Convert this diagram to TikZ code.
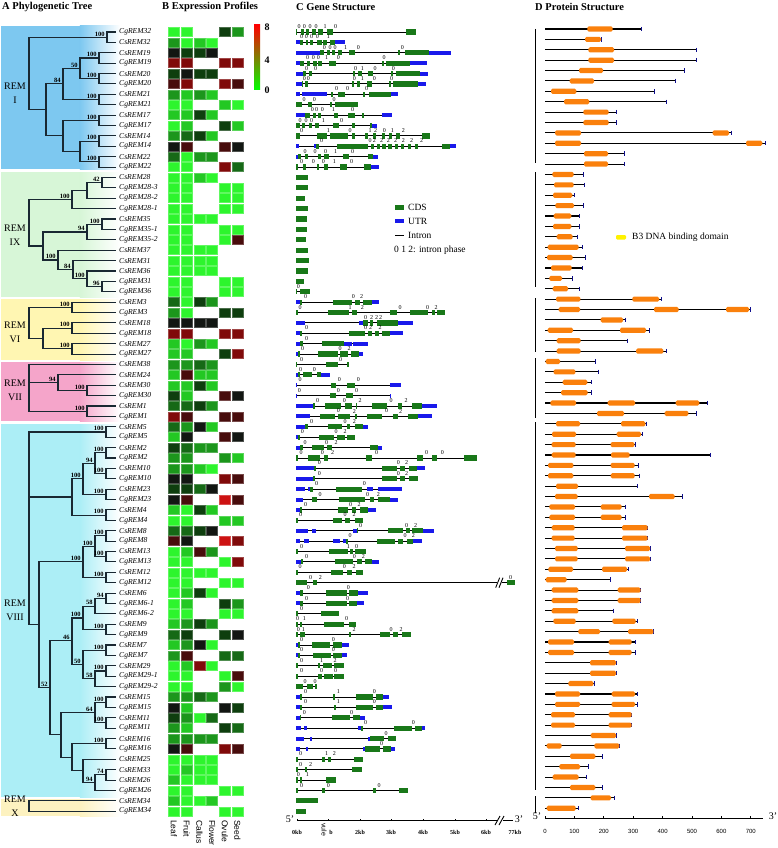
\documentclass[tikz,border=0pt]{standalone}
\usepackage{fontspec}
\setmainfont{Liberation Serif}
\newfontfamily\arialf{Liberation Sans}
\usetikzlibrary{calc}
\definecolor{g0}{RGB}{45,245,45}
\definecolor{g1}{RGB}{35,200,35}
\definecolor{g2}{RGB}{28,150,28}
\definecolor{g3}{RGB}{22,105,22}
\definecolor{g4}{RGB}{14,62,14}
\definecolor{k}{RGB}{18,22,18}
\definecolor{r1}{RGB}{72,12,12}
\definecolor{r2}{RGB}{128,10,10}
\definecolor{r3}{RGB}{205,18,18}
\definecolor{cdsc}{RGB}{25,120,25}
\definecolor{utrc}{RGB}{25,25,235}
\definecolor{domc}{RGB}{250,128,12}
\definecolor{treec}{RGB}{25,40,50}
\definecolor{bI}{RGB}{125,200,240}
\definecolor{bIX}{RGB}{215,246,215}
\definecolor{bVI}{RGB}{255,246,178}
\definecolor{bVII}{RGB}{245,165,202}
\definecolor{bVIII}{RGB}{172,238,246}
\definecolor{bX}{RGB}{253,242,192}
\tikzset{
  declare function={ry(\r)=32+10.39*\r;},
  tree/.style={line width=1.1pt,draw=treec,line cap=rect},
  boot/.style={anchor=south east,inner sep=0.6pt,xshift=-1.5pt,yshift=0.3pt,font=\fontsize{6.5}{7}\selectfont\bfseries},
  gname/.style={anchor=west,inner sep=0pt,font=\fontsize{7.6}{8}\selectfont\itshape},
  grp/.style={align=center,font=\fontsize{10}{14}\selectfont},
  title/.style={anchor=west,inner sep=0pt,font=\fontsize{10.5}{12}\selectfont\bfseries},
  intron/.style={line width=0.9pt,draw=black},
  cds/.style={fill=cdsc},
  utr/.style={fill=utrc},
  phase/.style={inner sep=0pt,font=\fontsize{6}{6}\selectfont},
  pline/.style={line width=1.1pt,draw=black},
  ptick/.style={line width=0.7pt,draw=utrc!60!black},
  dom/.style={fill=domc,rounded corners=1.5pt},
  leg/.style={anchor=west,inner sep=0pt,font=\fontsize{9.5}{11}\selectfont},
  axl/.style={inner sep=0pt,font=\fontsize{6}{7}\selectfont\bfseries},
  col/.style={rotate=-90,anchor=west,inner sep=0pt,font=\arialf\fontsize{8.5}{9}\selectfont}
}
\newcommand\tnode[6]{\draw[tree] (#1,{ry(#3)}) -- (#2,{ry(#3)}); \draw[tree] (#2,{ry(#4)}) -- (#2,{ry(#5)}); \node[boot] at (#2,{ry(#3)}) {#6};}
\newcommand\tleaf[2]{\draw[tree] (#1,{ry(#2)}) -- (115,{ry(#2)});}
\newcommand\hcell[3]{\fill[#3,draw=#3!75!white,line width=0.5pt] ({174+12.7*(#2-1)-5.5},{ry(#1)-4.5}) rectangle ++(11,9);}
\newcommand\hcs[5]{\hcell{#1}{1}{#2}\hcell{#1}{2}{#3}\hcell{#1}{3}{#4}\hcell{#1}{4}{#5}}
\newcommand\hcg[5]{\hcell{#1}{1}{#2}\hcell{#1}{2}{#3}\hcell{#1}{5}{#4}\hcell{#1}{6}{#5}}
\newcommand\gline[2]{\draw[intron] ({285+33/3},{ry(#1)}) -- ({285+#2/3},{ry(#1)});}
\newcommand\gcds[2]{\foreach \xa/\xb in {#2}{\fill[cds] ({285+\xa/3},{ry(#1)-2.6}) rectangle ({285+\xb/3},{ry(#1)+2.6});}}
\newcommand\gutr[2]{\foreach \xa/\xb in {#2}{\fill[utr] ({285+\xa/3},{ry(#1)-2}) rectangle ({285+\xb/3},{ry(#1)+2});}}
\newcommand\gph[2]{\foreach \xa/\xt in {#2}{\node[phase] at ({285+\xa/3},{ry(#1)-5.4}) {\xt};}}
\newcommand\prot[3]{\draw[pline] (545,{ry(#1)-3}) -- ({530+#2/3},{ry(#1)-3}); \draw[ptick] ({530+#2/3},{ry(#1)-5.2}) -- ({530+#2/3},{ry(#1)-0.8});
  \foreach \xa/\xb in {#3}{\fill[dom] ({530+\xa/3},{ry(#1)-5.6}) rectangle ({530+\xb/3},{ry(#1)-0.4});}}
\begin{document}
\begin{tikzpicture}[x=1pt,y=-1pt]
\useasboundingbox (0,0) rectangle (778,848);
\fill[white] (0,0) rectangle (778,848);
% ---------- backgrounds
\foreach \ya/\yb/\cc in {26/169/bI,172/297/bIX,299/360/bVI,362/421/bVII,424/797/bVIII,799/816/bX}{
  \fill[\cc] (1,\ya) rectangle (80,\yb);
  \shade[left color=\cc,right color=white] (79.8,\ya) rectangle (120,\yb);
}
% ---------- titles
\node[title] (tA) at (2,7) {A Phylogenetic Tree};
\node[title] (tB) at (162,7) {B Expression Profiles};
\node[title] (tC) at (296,7) {C Gene Structure};
\node[title] (tD) at (535,7) {D Protein Structure};
% ---------- group labels
\node[grp] (gI) at (15,93.5) {REM\\I};
\node[grp] (gIX) at (15,235.5) {REM\\IX};
\node[grp] (gVI) at (15,332.5) {REM\\VI};
\node[grp] (gVII) at (15,390) {REM\\VII};
\node[grp] (gVIII) at (15,610.5) {REM\\VIII};
\node[grp] (gX) at (15,806) {REM\\X};
% ---------- gene names
\foreach \nm [count=\i from 0] in {CgREM32,CsREM32,CsREM19,CgREM19,CsREM20,CgREM20,CsREM21,CgREM21,CsREM17,CgREM17,CsREM14,CgREM14,CsREM22,CgREM22,
 CsREM28,CgREM28-3,CgREM28-2,CgREM28-1,CsREM35,CgREM35-1,CgREM35-2,CsREM37,CsREM31,CsREM36,CgREM31,CgREM36,
 CsREM3,CgREM3,CsREM18,CgREM18,CsREM27,CgREM27,CsREM38,CsREM24,CsREM30,CgREM30,CsREM1,CgREM1,
 CsREM5,CgREM5,CsREM2,CgREM2,CsREM10,CgREM10,CsREM23,CgREM23,CsREM4,CgREM4,CsREM8,CgREM8,CsREM13,CgREM13,CsREM12,CgREM12,
 CsREM6,CgREM6-1,CgREM6-2,CsREM9,CgREM9,CsREM7,CgREM7,CsREM29,CgREM29-1,CgREM29-2,CsREM15,CgREM15,CsREM11,CgREM11,CsREM16,CgREM16,
 CsREM25,CsREM33,CsREM26,CgREM26,CsREM34,CgREM34}
 {\node[gname] (n\i) at (119,{ry(\i)}) {\nm};}
% ---------- tree REM I
\draw[tree] (29,{ry(0.5)}) -- (29,{ry(7.5)});
\tnode{29}{107}{0.5}{0}{1}{100}\tleaf{107}{0}\tleaf{107}{1}
\tnode{29}{46}{7.5}{5}{10}{}
\tnode{46}{63}{5}{3.5}{6.5}{84}
\tnode{63}{80}{3.5}{2.5}{4.5}{50}
\tnode{80}{99}{2.5}{2}{3}{100}\tleaf{99}{2}\tleaf{99}{3}
\tnode{80}{99}{4.5}{4}{5}{100}\tleaf{99}{4}\tleaf{99}{5}
\tnode{63}{99}{6.5}{6}{7}{100}\tleaf{99}{6}\tleaf{99}{7}
\tnode{46}{63}{10}{8.5}{11.5}{}
\tnode{63}{99}{8.5}{8}{9}{100}\tleaf{99}{8}\tleaf{99}{9}
\tnode{63}{80}{11.5}{10.5}{12.5}{}
\tnode{80}{99}{10.5}{10}{11}{100}\tleaf{99}{10}\tleaf{99}{11}
\tnode{80}{99}{12.5}{12}{13}{100}\tleaf{99}{12}\tleaf{99}{13}
% ---------- tree REM IX
\draw[tree] (29,{ry(16.125)}) -- (29,{ry(20.6)});
\tnode{29}{72}{16.125}{15.25}{17}{100}
\tnode{72}{87}{15.25}{14.5}{16}{}
\tnode{87}{102}{14.5}{14}{15}{42}\tleaf{102}{14}\tleaf{102}{15}
\tleaf{87}{16}\tleaf{72}{17}
\tnode{29}{43}{20.6}{19.25}{21.94}{}
\tnode{43}{87}{19.25}{18.5}{20}{94}
\tnode{87}{102}{18.5}{18}{19}{100}\tleaf{102}{18}\tleaf{102}{19}
\tleaf{87}{20}
\tnode{43}{58}{21.94}{21}{22.875}{100}\tleaf{58}{21}
\tnode{58}{73}{22.875}{22}{23.75}{84}\tleaf{73}{22}
\tnode{73}{87}{23.75}{23}{24.5}{100}\tleaf{87}{23}
\tnode{87}{102}{24.5}{24}{25}{96}\tleaf{102}{24}\tleaf{102}{25}
% ---------- tree REM VI
\draw[tree] (29,{ry(26.5)}) -- (29,{ry(29.5)});
\tnode{29}{72}{26.5}{26}{27}{100}\tleaf{72}{26}\tleaf{72}{27}
\tnode{29}{43}{29.5}{28.5}{30.5}{}
\tnode{43}{72}{28.5}{28}{29}{100}\tleaf{72}{28}\tleaf{72}{29}
\tnode{43}{72}{30.5}{30}{31}{100}\tleaf{72}{30}\tleaf{72}{31}
% ---------- tree REM VII
\draw[tree] (29,{ry(32)}) -- (29,{ry(36.5)});
\tleaf{29}{32}
\tnode{29}{58}{33.75}{33}{34.5}{94}\tleaf{58}{33}
\tnode{58}{87}{34.5}{34}{35}{100}\tleaf{87}{34}\tleaf{87}{35}
\tnode{29}{87}{36.5}{36}{37}{100}\tleaf{87}{36}\tleaf{87}{37}
% ---------- tree REM VIII
\draw[tree] (29,{ry(38.5)}) -- (29,{ry(57.05)});
\tnode{29}{106}{38.5}{38}{39}{100}\tleaf{106}{38}\tleaf{106}{39}
\tnode{29}{72}{44.75}{43}{46.5}{}
\tnode{72}{83}{43}{41.5}{44.5}{100}
\tnode{83}{95}{41.5}{40.5}{42.5}{94}
\tnode{95}{106}{40.5}{40}{41}{100}\tleaf{106}{40}\tleaf{106}{41}
\tnode{95}{106}{42.5}{42}{43}{100}\tleaf{106}{42}\tleaf{106}{43}
\tnode{83}{106}{44.5}{44}{45}{100}\tleaf{106}{44}\tleaf{106}{45}
\tnode{72}{106}{46.5}{46}{47}{100}\tleaf{106}{46}\tleaf{106}{47}
\tnode{29}{39}{57.05}{51}{63.1}{}
\tnode{39}{83}{51}{49.5}{52.5}{100}
\tnode{83}{95}{49.5}{48.5}{50.5}{100}
\tnode{95}{106}{48.5}{48}{49}{100}\tleaf{106}{48}\tleaf{106}{49}
\tnode{95}{106}{50.5}{50}{51}{100}\tleaf{106}{50}\tleaf{106}{51}
\tnode{83}{106}{52.5}{52}{53}{100}\tleaf{106}{52}\tleaf{106}{53}
\tnode{39}{50}{63.1}{58.6}{67.65}{52}
\tnode{50}{72}{58.6}{56.4}{60.9}{46}
\tnode{72}{83}{56.4}{55.25}{57.5}{100}
\tnode{83}{95}{55.25}{54.5}{56}{58}
\tnode{95}{106}{54.5}{54}{55}{94}\tleaf{106}{54}\tleaf{106}{55}
\tleaf{95}{56}
\tnode{83}{106}{57.5}{57}{58}{100}\tleaf{106}{57}\tleaf{106}{58}
\tnode{72}{83}{60.9}{59.5}{62.25}{50}
\tnode{83}{106}{59.5}{59}{60}{100}\tleaf{106}{59}\tleaf{106}{60}
\tnode{83}{95}{62.25}{61.5}{63}{58}
\tnode{95}{106}{61.5}{61}{62}{100}\tleaf{106}{61}\tleaf{106}{62}
\tleaf{95}{63}
\tnode{50}{61}{67.65}{65.5}{69.8}{}
\tnode{61}{95}{65.5}{64.5}{66.5}{64}
\tnode{95}{106}{64.5}{64}{65}{100}\tleaf{106}{64}\tleaf{106}{65}
\tnode{95}{106}{66.5}{66}{67}{100}\tleaf{106}{66}\tleaf{106}{67}
\tnode{61}{72}{69.8}{68.5}{71.1}{}
\tnode{72}{106}{68.5}{68}{69}{100}\tleaf{106}{68}\tleaf{106}{69}
\tnode{72}{83}{71.1}{70}{72.25}{}
\tleaf{83}{70}
\tnode{83}{95}{72.25}{71.5}{73}{94}
\tnode{95}{106}{71.5}{71}{72}{74}\tleaf{106}{71}\tleaf{106}{72}
\tleaf{95}{73}
% ---------- tree REM X
\draw[tree] (29,{ry(74)}) -- (29,{ry(75)});
\tleaf{29}{74}\tleaf{29}{75}
% ---------- heatmap
\hcg{0}{g0}{g0}{g4}{g2}
\hcs{1}{g2}{g0}{g1}{g0}
\hcs{2}{k}{g4}{g4}{k}
\hcg{3}{r2}{r2}{r2}{r2}
\hcs{4}{g4}{k}{g4}{g4}
\hcg{5}{r1}{r2}{r2}{r1}
\hcs{6}{g2}{g1}{g2}{g1}
\hcg{7}{g0}{g0}{g1}{g0}
\hcs{8}{g1}{g1}{g4}{g1}
\hcg{9}{g0}{g1}{g4}{g1}
\hcs{10}{g2}{g3}{g4}{g1}
\hcg{11}{k}{r1}{r1}{k}
\hcs{12}{g3}{g0}{g2}{g2}
\hcg{13}{g0}{g0}{r2}{g3}
\hcs{14}{g0}{g0}{g1}{g0}
\hcg{15}{g0}{g0}{g0}{g0}
\hcg{16}{g0}{g0}{g0}{g0}
\hcg{17}{g0}{g0}{g0}{g0}
\hcs{18}{g0}{g0}{g0}{g0}
\hcg{19}{g0}{g0}{g0}{g0}
\hcg{20}{g0}{g0}{g0}{r1}
\hcs{21}{g0}{g0}{g0}{g0}
\hcs{22}{g0}{g0}{g0}{g0}
\hcs{23}{g0}{g0}{g0}{g0}
\hcg{24}{g0}{g0}{g0}{g0}
\hcg{25}{g0}{g0}{g0}{g0}
\hcs{26}{g3}{g0}{g4}{g2}
\hcg{27}{g2}{g0}{g4}{g4}
\hcs{28}{k}{k}{k}{k}
\hcg{29}{r2}{r2}{r2}{r2}
\hcs{30}{g1}{g0}{g2}{g1}
\hcg{31}{g1}{g1}{g4}{r2}
\hcs{32}{g2}{g2}{g3}{g2}
\hcs{33}{g1}{r1}{g1}{g1}
\hcs{34}{g1}{g1}{g4}{g1}
\hcg{35}{g4}{g1}{r1}{k}
\hcs{36}{g3}{g3}{g4}{g2}
\hcg{37}{r2}{r1}{r1}{r1}
\hcs{38}{g3}{g2}{k}{g1}
\hcg{39}{g1}{k}{r1}{k}
\hcs{40}{g4}{g3}{g2}{g2}
\hcg{41}{g2}{g2}{g2}{g1}
\hcs{42}{g2}{g2}{g1}{g0}
\hcg{43}{k}{k}{r2}{r1}
\hcs{44}{g4}{g4}{g3}{k}
\hcg{45}{k}{r1}{r3}{r1}
\hcs{46}{g1}{g0}{g4}{g1}
\hcg{47}{g0}{g0}{g1}{g1}
\hcs{48}{g3}{g3}{g4}{k}
\hcg{49}{r1}{k}{r3}{r2}
\hcs{50}{g0}{g1}{r1}{g2}
\hcg{51}{g0}{g0}{g0}{r2}
\hcs{52}{g0}{g0}{g0}{g0}
\hcg{53}{g0}{g0}{g0}{g0}
\hcs{54}{g0}{g1}{g4}{g0}
\hcg{55}{g0}{g1}{g4}{g2}
\hcg{56}{g0}{g0}{g0}{g0}
\hcs{57}{g1}{g2}{g4}{g2}
\hcg{58}{g3}{g4}{g4}{k}
\hcs{59}{g1}{g2}{k}{g0}
\hcg{60}{g2}{r1}{g3}{g3}
\hcs{61}{g0}{g1}{r2}{g0}
\hcg{62}{g0}{g0}{g0}{r1}
\hcg{63}{g0}{g0}{g2}{g0}
\hcs{64}{g2}{g2}{g3}{g2}
\hcg{65}{k}{g1}{k}{g4}
\hcs{66}{g4}{g2}{g0}{g3}
\hcg{67}{g2}{g1}{g4}{g3}
\hcs{68}{g2}{g2}{g2}{g2}
\hcg{69}{k}{r1}{r2}{r1}
\hcs{70}{g0}{g0}{g0}{g0}
\hcs{71}{g0}{g1}{g0}{g0}
\hcs{72}{g1}{g0}{g0}{g0}
\hcg{73}{g0}{g0}{g0}{g0}
\hcs{74}{g1}{g0}{g0}{g1}
\hcg{75}{g0}{g0}{g0}{g0}
% column labels
\foreach \lab [count=\i from 0] in {Leaf,Fruit,Callus,Flower,Ovule,Seed}
  {\node[col] (c\i) at ({174+12.7*\i},820) {\lab};}
% colour bar
\shade[top color=red,middle color=black,bottom color=green] (254,25) rectangle (260,90);
\node[inner sep=0pt,font=\fontsize{10}{11}\selectfont\bfseries] (cb8) at (267,27) {8};
\node[inner sep=0pt,font=\fontsize{10}{11}\selectfont\bfseries] (cb4) at (267,60) {4};
\node[inner sep=0pt,font=\fontsize{10}{11}\selectfont\bfseries] (cb0) at (267,90) {0};
% ---------- gene structure
\gline{0}{365}\gcds{0}{33/37,48/56,62/72,80/92,100/115,125/145,363/393}\gph{0}{42/0,58/0,75/0,93/0,120/1,152/0}
\gline{1}{180}\gutr{1}{33/45,150/180}\gcds{1}{45/55,62/70,76/85,95/110,115/125,135/150}\gph{1}{50/0,64/0,80/0,97/0,130/1}
\gline{2}{497}\gutr{2}{33/105,432/497}\gcds{2}{105/118,125/135,140/150,160/172,192/210,340/345,360/432}\gph{2}{118/0,135/0,150/0,182/1,220/0,352/0}
\gline{3}{425}\gutr{3}{33/45,375/425}\gcds{3}{45/58,65/75,85/95,100/110,133/153,290/296,303/375}\gph{3}{68/0,85/0,100/0,125/1,160/0,297/0}
\gline{4}{430}\gutr{4}{33/55,405/430}\gcds{4}{55/62,72/82,205/210,220/230,248/265,318/325,332/405}\gph{4}{65/0,92/0,212/0,232/1,270/0,325/0}
\gline{5}{423}\gutr{5}{33/50,398/423}\gcds{5}{50/55,60/70,200/208,215/225,245/262,312/318,325/398}\gph{5}{58/0,70/0,208/0,232/1,268/0,320/0}
\gline{6}{338}\gutr{6}{33/45,50/125,318/338}\gcds{6}{138/145,160/180,235/240,252/318}\gph{6}{155/0,188/0,245/0}
\gline{7}{220}\gcds{7}{33/50,70/80,135/142,150/220}\gph{7}{57/0,88/0,147/0}
\gline{8}{322}\gutr{8}{33/60,290/322}\gcds{8}{60/75,85/92,100/108,148/160,190/210,232/236}\gph{8}{82/0,95/0,112/0,145/1,203/0}
\gline{9}{276}\gutr{9}{262/276}\gcds{9}{33/45,52/60,72/80,90/102,145/162,200/210,255/262}\gph{9}{45/0,63/0,80/0,115/1,170/0}
\gline{10}{435}\gcds{10}{33/45,95/125,135/188,200/210,240/250,265/272,290/300,312/320,333/345,410/435}\gph{10}{50/0,130/1,195/0,255/1,272/2,298/0,322/1,355/2}
\gline{11}{512}\gutr{11}{33/43,87/92,495/512}\gcds{11}{92/102,155/248,258/268,275/285,292/302,310/320,330/340,348/358,368/378,390/400,470/495}\gph{11}{110/0,255/0,268/2,290/2,310/2,332/2,355/2,380/2,410/2}
\gline{12}{278}\gutr{12}{33/40,265/278}\gcds{12}{40/48,60/68,100/108,118/132,175/192,248/265}\gph{12}{60/0,90/0,122/0,152/1,203/0}
\gline{13}{283}\gutr{13}{258/283}\gcds{13}{33/40,55/62,95/102,118/130,165/185,238/258}\gph{13}{50/0,85/0,115/0,148/1,200/0}
\gcds{14}{33/68}\gcds{15}{33/70}\gcds{16}{33/60}\gcds{17}{33/70}\gcds{18}{33/65}\gcds{19}{33/65}
\gcds{20}{33/63}\gcds{21}{33/68}\gcds{22}{33/72}\gcds{23}{33/68}\gcds{24}{33/58}
\gline{25}{75}\gcds{25}{33/36,45/75}\gph{25}{40/0}
\gline{26}{283}\gutr{26}{33/45,262/283}\gcds{26}{45/52,145/200,210/225,235/262}\gph{26}{62/0,205/0,230/2}
\gline{27}{480}\gcds{27}{33/38,128/192,200/215,315/335,375/430,440/450,455/480}\gph{27}{45/0,195/1,232/2,345/0,428/0,453/2}
\gline{28}{385}\gutr{28}{33/60,222/235,340/385}\gcds{28}{235/248,255/265,275/340}\gph{28}{242/0,260/2,275/2,287/2}
\gline{29}{355}\gutr{29}{33/45,315/355}\gcds{29}{45/50,193/240,250/260,270/282,290/315}\gph{29}{65/0,242/0,257/2,285/2}
\gline{30}{250}\gutr{30}{33/45,178/200,205/250}\gcds{30}{45/55,110/178}\gph{30}{65/0}
\gline{31}{235}\gutr{31}{33/40,222/235}\gcds{31}{40/45,100/160,165/190,198/222}\gph{31}{53/0,165/0,192/2}
\gline{32}{193}\gcds{32}{33/36,122/160,186/193}\gph{32}{50/0,167/0}
\gline{33}{135}\gutr{33}{33/38,108/135}\gcds{33}{38/45,55/80,95/108}\gph{33}{47/0,88/0}
\gline{34}{348}\gutr{34}{33/36,315/348}\gcds{34}{137/153,185/210}\gph{34}{45/0,163/0,220/0}
\gline{35}{318}\gutr{35}{33/36,315/318}\gcds{35}{135/152,183/205}\gph{35}{43/0,160/0,215/0}
\gline{36}{457}\gutr{36}{33/85,410/457}\gcds{36}{85/90,120/168,180/200,212/217,262/305,340/352,382/410}\gph{36}{98/0,178/0,225/2,318/0,363/2}
\gline{37}{440}\gutr{37}{33/75,400/440}\gcds{37}{105/150,160/195,210/215,245/292,325/340,370/400}\gph{37}{160/0,208/2,305/0,347/2}
\gline{38}{250}\gutr{38}{33/60,235/250}\gcds{38}{60/70,128/172,185/195,210/235}\gph{38}{80/0,180/0,208/2}
\gline{39}{210}\gutr{39}{33/40}\gcds{39}{40/45,103/148,155/180,185/210}\gph{39}{52/0,153/0,180/2}
\gline{40}{290}\gutr{40}{33/45,280/290}\gcds{40}{45/55,80/118,125/140,255/280}\gph{40}{60/0,125/0,153/2}
\gline{41}{575}\gcds{41}{33/40,68/105,118/130,242/262,396/415,440/455,537/575}\gph{41}{48/0,112/0,143/2,275/0,425/0,472/0}
\gline{42}{420}\gutr{42}{33/88,395/420}\gcds{42}{88/92,290/335,345/360,372/395}\gph{42}{103/0,340/0,365/2}
\gline{43}{400}\gutr{43}{33/85}\gcds{43}{85/90,290/335,345/360,372/398}\gph{43}{103/0,340/0,365/2}
\gline{44}{350}\gutr{44}{33/60,68/75,245/265,278/350}\gcds{44}{75/85,153/230}\gph{44}{95/0,238/0}
\gline{45}{340}\gutr{45}{33/55,315/340}\gcds{45}{80/95,162/240,255/268,280/315}\gph{45}{105/0,248/0,280/2}
\gline{46}{272}\gutr{46}{33/45,250/272}\gcds{46}{45/50,160/190,200/212,225/250}\gph{46}{62/0,197/0,222/2}
\gline{47}{235}\gcds{47}{33/38,145/172,180/195,210/235}\gph{47}{47/0,180/0,207/2}
\gline{48}{447}\gutr{48}{33/68,80/92,205/215,415/447}\gcds{48}{215/218,308/355,362/375,382/415}\gph{48}{227/0,365/0,392/2}
\gline{49}{412}\gutr{49}{33/45,58/72,145/165,173/183,385/412}\gcds{49}{183/188,275/330,340/355,365/385}\gph{49}{195/0,360/0,385/2}
\gline{50}{242}\gcds{50}{33/40,133/190,195/205,210/242}\gph{50}{50/0,190/1,215/0}
\gline{51}{283}\gutr{51}{33/48,262/283}\gcds{51}{48/55,150/205,215/230,240/262}\gph{51}{65/0,208/0,235/2}
\gline{52}{233}\gcds{52}{33/38,138/175,185/200,212/233}\gph{52}{45/0,178/0,207/2}
\gline{53}{690}\gcds{53}{33/65,85/95,665/690}\gph{53}{77/0,106/2,677/0}
\fill[white] ({285+636/3},{ry(53)-6}) rectangle ({285+652/3},{ry(53)+6});
\draw[line width=0.9pt] ({285+632/3},{ry(53)+5}) -- ({285+644/3},{ry(53)-5});
\draw[line width=0.9pt] ({285+642/3},{ry(53)+5}) -- ({285+654/3},{ry(53)-5});
\gline{54}{250}\gutr{54}{33/45,218/250}\gcds{54}{45/55,123/185,193/218}\gph{54}{70/0,190/0}
\gline{55}{237}\gutr{55}{33/45,215/237}\gcds{55}{45/55,123/185,193/215}\gph{55}{65/0,188/0}
\gline{56}{163}\gcds{56}{33/40,108/163}\gph{56}{50/0}
\gline{57}{212}\gcds{57}{33/38,45/52,118/178,192/212}\gph{57}{38/0,58/1,185/0}
\gline{58}{378}\gcds{58}{33/38,45/60,193/197,285/315,325/340,350/378}\gph{58}{40/0,55/1,207/2,318/0,348/2}
\gline{59}{193}\gutr{59}{33/38,170/193}\gcds{59}{38/45,82/135,143/170}\gph{59}{50/0,145/0}
\gline{60}{185}\gutr{60}{33/38,172/185}\gcds{60}{38/45,85/138,145/172}\gph{60}{50/0,145/0}
\gline{61}{178}\gcds{61}{33/38,98/105,115/140,148/178}\gph{61}{50/0,110/1,150/2}
\gline{62}{178}\gcds{62}{33/38,100/110,118/145,148/178}\gph{62}{50/0,110/0,152/0}
\gline{63}{96}\gcds{63}{33/55,65/85,90/96}\gph{63}{60/0,90/0}
\gline{64}{312}\gutr{64}{33/45,295/312}\gcds{64}{45/50,145/150,212/265,272/295}\gph{64}{62/0,160/1,268/0}
\gline{65}{320}\gutr{65}{33/45,295/320}\gcds{65}{45/50,148/152,212/265,272/295}\gph{65}{62/0,160/1,268/0}
\gline{66}{240}\gutr{66}{33/45,225/240}\gcds{66}{45/48,140/195,205/225}\gph{66}{58/0,200/0}
\gline{67}{420}\gutr{67}{33/48,58/65,220/228,412/420}\gcds{67}{228/233,327/380,390/412}\gph{67}{242/0,385/0}
\gline{68}{332}\gutr{68}{33/58,75/80,248/255}\gcds{68}{255/298,308/332}\gph{68}{303/0}
\gline{69}{330}\gutr{69}{33/45,63/70,235/240,318/330}\gcds{69}{240/285,295/318}\gph{69}{290/0}
\gline{70}{235}\gcds{70}{33/38,112/120,130/137,208/235}\gph{70}{47/0,125/1,148/2}
\gline{71}{230}\gcds{71}{33/38,60/65,200/230}\gph{71}{47/0,77/2}
\gline{72}{152}\gcds{72}{33/38,45/52,122/152}\gph{72}{40/0,67/1}
\gline{73}{370}\gcds{73}{33/38,112/120,265/272,342/370}\gph{73}{50/0,130/0,282/0}
\gcds{74}{33/98}\gcds{75}{33/63}
% legend C
\fill[cds] (395,204.5) rectangle (404,209.5); \node[leg] (lcds) at (408,207) {CDS};
\fill[utr] (395,219) rectangle (404,223); \node[leg] (lutr) at (408,221) {UTR};
\draw[intron] (395,235) -- (404,235); \node[leg] (lint) at (408,235) {Intron};
\node[leg] (lph) at (394,250) {0 1 2: intron phase};
% gene axis
\draw[line width=1pt] (297,820.7) -- (497,820.7);
\draw[line width=1pt] (503,820.7) -- (513,820.7);
\draw[line width=0.9pt] (495,825) -- (500,816);
\draw[line width=0.9pt] (499,825) -- (504,816);
\foreach \i in {0,...,6}{\draw[line width=0.8pt] ({297+31.6*\i},820.7) -- ({297+31.6*\i},818.5);}
\node[inner sep=0pt,font=\fontsize{10}{11}\selectfont] (g5p) at (290,819) {5'};
\node[inner sep=0pt,font=\fontsize{10}{11}\selectfont] (g3p) at (519,819) {3'};
\node[axl] (k0) at (297,832) {0kb};
\node[axl,rotate=-90,anchor=west,font=\arialf\fontsize{7}{8}\selectfont] (kv) at (324,823) {vule};
\node[axl] (k1) at (331,832) {b};
\node[axl] (k2) at (360,832) {2kb};
\node[axl] (k3) at (391,832) {3kb};
\node[axl] (k4) at (423,832) {4kb};
\node[axl] (k5) at (455,832) {5kb};
\node[axl] (k6) at (486,832) {6kb};
\node[axl] (k7) at (515,832) {77kb};
% ---------- protein structure
\foreach \ya/\yb in {29/163,172/287,298/352,358/418,422/790,796/813}{\draw[line width=1.5pt] (535.7,\ya) -- (535.7,\yb);}
\prot{0}{335}{172/248}
\prot{1}{215}{165/213}
\prot{2}{500}{175/252}
\prot{3}{500}{175/252}
\prot{4}{463}{147/219}
\prot{5}{437}{119/192}
\prot{6}{372}{63/139}
\prot{7}{408}{102/178}
\prot{8}{258}{160/236}
\prot{9}{258}{160/236}
\prot{10}{605}{75/153,548/597}
\prot{11}{706}{75/153,648/697}
\prot{12}{283}{162/234}
\prot{13}{283}{162/234}
\prot{14}{160}{67/131}
\prot{15}{162}{72/131}
\prot{16}{133}{69/127}
\prot{17}{160}{76/132}
\prot{18}{147}{71/124}
\prot{19}{147}{69/124}
\prot{20}{141}{80/128}
\prot{21}{157}{53/146}
\prot{22}{167}{51/128}
\prot{23}{157}{63/125}
\prot{24}{128}{58/96}
\prot{25}{147}{68/114}
\prot{26}{395}{78/151,307/387}
\prot{27}{660}{86/150,372/446,588/657}
\prot{28}{287}{212/279}
\prot{29}{357}{53/129,270/348}
\prot{30}{293}{80/152}
\prot{31}{410}{80/152,318/400}
\prot{32}{196}{47/90}
\prot{33}{205}{71/136}
\prot{34}{183}{98/172}
\prot{35}{185}{93/173}
\prot{36}{532}{61/138,233/315,437/508}
\prot{37}{500}{201/282,404/475}
\prot{38}{350}{78/150,273/346}
\prot{39}{337}{66/138,260/333}
\prot{40}{317}{65/137,242/313}
\prot{41}{540}{65/137,243/299}
\prot{42}{325}{54/130,242/314}
\prot{43}{327}{54/130,242/314}
\prot{44}{322}{78/144}
\prot{45}{457}{75/143,357/434}
\prot{46}{287}{58/135,212/275}
\prot{47}{287}{58/135,212/275}
\prot{48}{353}{65/134,276/353}
\prot{49}{353}{65/134,276/353}
\prot{50}{360}{75/143,285/360}
\prot{51}{360}{75/143,285/360}
\prot{52}{296}{55/129,216/291}
\prot{53}{242}{47/110}
\prot{54}{332}{65/145,263/332}
\prot{55}{332}{65/145,263/332}
\prot{56}{250}{65/145}
\prot{57}{322}{70/137,247/317}
\prot{58}{370}{145/210,294/370}
\prot{59}{315}{54/132,236/305}
\prot{60}{315}{54/132,236/305}
\prot{61}{258}{180/258}
\prot{62}{258}{180/258}
\prot{63}{193}{115/190}
\prot{64}{323}{75/150,245/315}
\prot{65}{323}{75/150,245/315}
\prot{66}{305}{63/135,236/305}
\prot{67}{305}{63/135,236/305}
\prot{68}{258}{182/258}
\prot{69}{268}{50/95,193/268}
\prot{70}{217}{120/196}
\prot{71}{175}{88/150}
\prot{72}{168}{68/146}
\prot{73}{217}{120/196}
\prot{74}{253}{182/243}
\prot{75}{145}{50/137}
% legend D
\fill[yellow,rounded corners=1.2pt] (616,235) rectangle (626,239.5);
\node[leg] (lb3) at (632,237) {B3 DNA binding domain};
% protein axis
\draw[line width=1pt] (545,818.3) -- (763,818.3);
\foreach \i in {0,...,7}{\draw[line width=0.8pt] ({545+29.4*\i},818.3) -- ({545+29.4*\i},816);
  \pgfmathtruncatemacro\lv{100*\i}
  \node[inner sep=0pt,font=\arialf\fontsize{6}{7}\selectfont] at ({545+29.4*\i},831) {\lv};}
\node[inner sep=0pt,font=\fontsize{10}{11}\selectfont] (p5) at (537,816) {5'};
\node[inner sep=0pt,font=\fontsize{10}{11}\selectfont] (p3) at (773,816) {3'};
\end{tikzpicture}
\end{document}
